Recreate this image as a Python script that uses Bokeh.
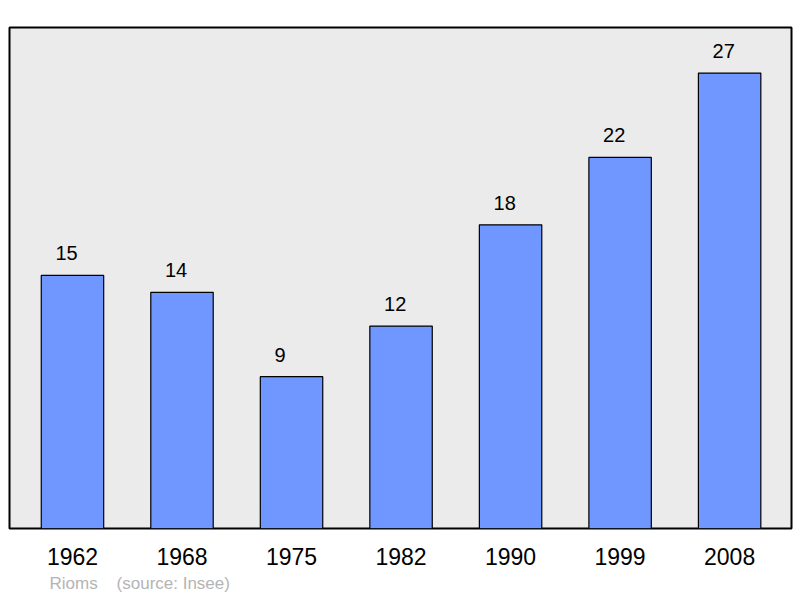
from bokeh.plotting import figure
from bokeh.models import ColumnDataSource, FixedTicker, Range1d, Title
from bokeh.core.properties import value
from bokeh.embed import file_html
from bokeh.resources import INLINE

years = ["1962", "1968", "1975", "1982", "1990", "1999", "2008"]
counts = [15, 14, 9, 12, 18, 22, 27]
footer_town = "Rioms"
footer_source = "(source: Insee)"

xs = list(range(len(years)))
labels = [str(c) for c in counts]
src = ColumnDataSource(dict(x=xs, top=counts, label=labels))

p = figure(width=800, height=598, output_backend="svg", toolbar_location=None,
           x_range=Range1d(-0.575, len(years) - 1 + 0.565),
           y_range=Range1d(0, max(counts) * 1.1),
           min_border_left=9, min_border_right=9, min_border_top=27, min_border_bottom=70)

p.background_fill_color = "#ebebeb"
p.border_fill_color = "white"
p.outline_line_color = "black"
p.outline_line_width = 2
p.grid.visible = False
p.yaxis.visible = False

p.vbar(x="x", top="top", width=0.57, bottom=0, source=src,
       fill_color="#7096ff", line_color="black", line_width=1.2)

p.text(x="x", y="top", text="label", source=src, text_align="left",
       text_baseline="bottom", x_offset=-17, y_offset=-15, text_font_size="20px",
       text_font=value("Liberation Sans"), text_color="black")

p.xaxis.ticker = FixedTicker(ticks=xs)
p.xaxis.major_label_overrides = {i: y for i, y in enumerate(years)}
p.xaxis.axis_line_color = None
p.xaxis.major_tick_line_color = None
p.xaxis.major_tick_out = 0
p.xaxis.major_tick_in = 0
p.xaxis.major_label_standoff = 19
p.xaxis.major_label_text_font_size = "23px"
p.xaxis.major_label_text_font = "Liberation Sans"
p.xaxis.major_label_text_color = "black"

footer = Title(text=footer_town + "\u00a0\u00a0\u00a0\u00a0" + footer_source,
               align="left", offset=40, text_font_size="17px",
               text_font="Liberation Sans", text_font_style="normal",
               text_color="#b4b4b4", standoff=9)
p.add_layout(footer, "below")

open("out.html", "w").write(file_html(p, INLINE))
